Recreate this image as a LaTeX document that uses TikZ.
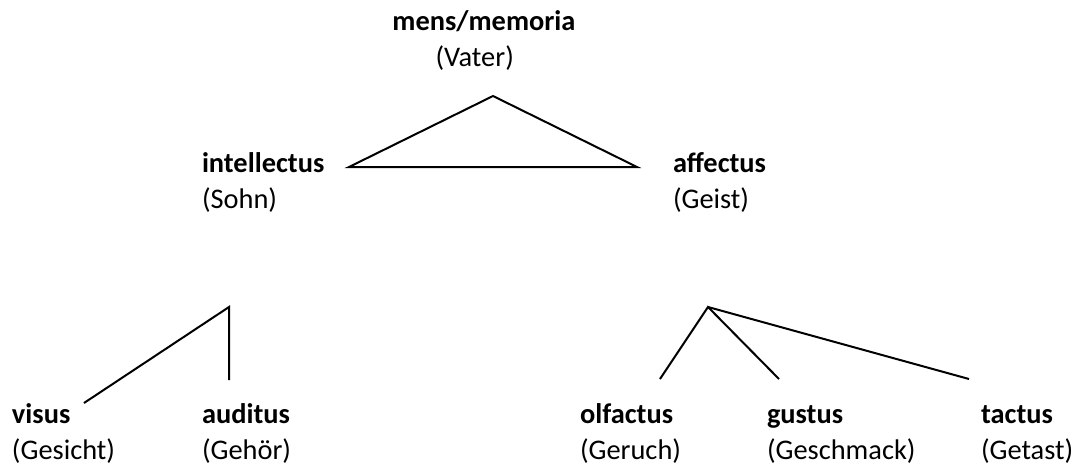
\documentclass[tikz,border=0pt]{standalone}
\usepackage{fontspec}
\setmainfont{Carlito}
\begin{document}
\begin{tikzpicture}[x=0.75pt,y=-0.75pt,
  lbl/.style={inner sep=0pt,outer sep=0pt,anchor=base west,align=left,font=\fontsize{21.3}{27}\selectfont},
  lblc/.style={inner sep=0pt,outer sep=0pt,anchor=base,align=center,font=\fontsize{21.3}{27}\selectfont},
  edge/.style={line width=1.5pt,line cap=butt,line join=miter}]
\useasboundingbox (0,0) rectangle (1088,468);
% labels (anchor = baseline of the last line)
\node[lblc] (mens) at (484,66) {\textbf{mens/memoria}\\\hspace*{-14pt}(Vater)};
\node[lbl] (intel) at (202,208) {\textbf{intellectus}\\(Sohn)};
\node[lbl] (affec) at (673,208) {\textbf{affectus}\\(Geist)};
\node[lbl] (visus) at (12,459) {\textbf{visus}\\(Gesicht)};
\node[lbl] (audit) at (202,459) {\textbf{auditus}\\(Gehör)};
\node[lbl] (olfac) at (580,459) {\textbf{olfactus}\\(Geruch)};
\node[lbl] (gustu) at (767,459) {\textbf{gustus}\\(Geschmack)};
\node[lbl] (tactu) at (981,459) {\textbf{tactus}\\(Getast)};
% connector points
\coordinate (apex) at (493,96);
\coordinate (tl) at (349,167);
\coordinate (tr) at (637,167);
\coordinate (lv) at (229,307);
\coordinate (lvis) at (84,403);
\coordinate (laud) at (229,380);
\coordinate (rv) at (708,307);
\coordinate (rolf) at (660,379);
\coordinate (rgus) at (779,379);
\coordinate (rtac) at (969,379);
% connectors
\draw[edge] (tl) -- (apex) -- (tr) -- cycle;
\draw[edge] (lvis) -- (lv) -- (laud);
\draw[edge] (rolf) -- (rv) -- (rgus);
\draw[edge] (rv) -- (rtac);
\end{tikzpicture}
\end{document}
